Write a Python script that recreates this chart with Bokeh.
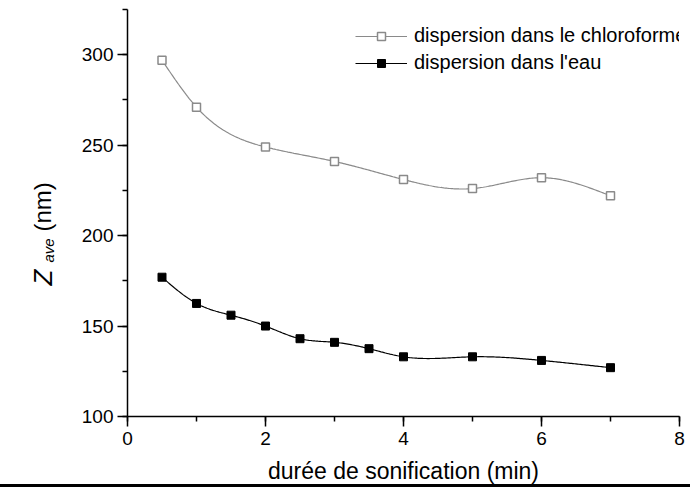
import numpy as np
from bokeh.plotting import figure
from bokeh.layouts import row
from bokeh.models import (Range1d, SingleIntervalTicker, Legend, LegendItem, Label)
from bokeh.embed import file_html
from bokeh.resources import INLINE

# ---- data ----
x_chloro = [0.5, 1, 2, 3, 4, 5, 6, 7]
y_chloro = [297, 271, 249, 241, 231, 226, 232, 222]
x_eau = [0.5, 1, 1.5, 2, 2.5, 3, 3.5, 4, 5, 6, 7]
y_eau = [177, 162.5, 156, 150, 143, 141, 137.5, 133, 133, 131, 127]
label_chloro = "dispersion dans le chloroforme"
label_eau = "dispersion dans l'eau"
x_title = "durée de sonification (min)"
y_title_main = "Z"
y_title_sub = "ave"
y_title_unit = "(nm)"


def spline(xs, ys, num=300):
    xs = np.asarray(xs, float)
    ys = np.asarray(ys, float)
    n = len(xs)
    h = np.diff(xs)
    A = np.zeros((n, n))
    b = np.zeros(n)
    A[0, 0] = 1
    A[-1, -1] = 1
    for i in range(1, n - 1):
        A[i, i - 1] = h[i - 1]
        A[i, i] = 2 * (h[i - 1] + h[i])
        A[i, i + 1] = h[i]
        b[i] = 6 * ((ys[i + 1] - ys[i]) / h[i] - (ys[i] - ys[i - 1]) / h[i - 1])
    M = np.linalg.solve(A, b)
    xx = np.linspace(xs[0], xs[-1], num)
    idx = np.clip(np.searchsorted(xs, xx) - 1, 0, n - 2)
    x0 = xs[idx]
    x1 = xs[idx + 1]
    hh = x1 - x0
    t0 = x1 - xx
    t1 = xx - x0
    yy = (M[idx] * t0 ** 3 / (6 * hh) + M[idx + 1] * t1 ** 3 / (6 * hh)
          + (ys[idx] / hh - M[idx] * hh / 6) * t0
          + (ys[idx + 1] / hh - M[idx + 1] * hh / 6) * t1)
    return xx, yy


FONT = "Liberation Sans"
H = 488
WL = 70
BG = {"background": "linear-gradient(to top, white 0px, white 1px, black 1px, "
                    "black 4px, white 4px, white 100%)"}

# ---- left strip holding the y title ----
q = figure(frame_width=WL, frame_height=H, output_backend="svg", toolbar_location=None,
           x_range=Range1d(0, WL), y_range=Range1d(0, H), x_axis_type=None,
           y_axis_type=None, min_border=0)
q.outline_line_color = None
q.xgrid.visible = False
q.ygrid.visible = False
q.background_fill_alpha = 0
q.border_fill_alpha = 0
q.styles = BG
ang = np.pi / 2
q.add_layout(Label(x=42, y=212, text=y_title_main, angle=ang, text_align="left",
                   text_baseline="alphabetic", text_font=FONT, text_font_size="26px",
                   text_font_style="italic", text_color="black"))
q.add_layout(Label(x=48, y=235, text=y_title_sub, angle=ang, text_align="left",
                   text_baseline="alphabetic", text_font=FONT, text_font_size="15px",
                   text_font_style="italic", text_color="black"))
q.add_layout(Label(x=42, y=266, text=y_title_unit, angle=ang, text_align="left",
                   text_baseline="alphabetic", text_font=FONT, text_font_size="24px",
                   text_color="black"))

# ---- main plot ----
p = figure(frame_width=552, frame_height=407, output_backend="svg",
           toolbar_location=None, x_range=Range1d(0, 8), y_range=Range1d(100, 325),
           min_border_left=127 - WL, min_border_top=9, min_border_bottom=H - 9 - 407,
           min_border_right=11)
p.outline_line_color = None
p.xgrid.visible = False
p.ygrid.visible = False
p.border_fill_alpha = 0
p.styles = BG

gray = "#8a8a8a"
sx, sy = spline(x_chloro, y_chloro)
l1 = p.line(sx, sy, line_color=gray, line_width=1.2)
m1 = p.scatter(x_chloro, y_chloro, marker="square", size=8, line_color=gray,
               fill_color="white", line_width=1.5)
wx, wy = spline(x_eau, y_eau)
l2 = p.line(wx, wy, line_color="black", line_width=1.2)
m2 = p.scatter(x_eau, y_eau, marker="square", size=8, line_color="black",
               fill_color="black")

for ax in (p.xaxis[0], p.yaxis[0]):
    ax.axis_line_width = 1.5
    ax.axis_line_color = "black"
    ax.major_tick_line_color = "black"
    ax.minor_tick_line_color = "black"
    ax.major_tick_line_width = 1.5
    ax.minor_tick_line_width = 1.5
    ax.major_tick_out = 10
    ax.major_tick_in = 0
    ax.minor_tick_out = 5
    ax.minor_tick_in = 0
    ax.major_label_text_font = FONT
    ax.major_label_text_font_size = "19px"
    ax.major_label_text_color = "black"
    ax.major_label_standoff = 4

p.xaxis[0].major_label_standoff = 5
p.xaxis[0].ticker = SingleIntervalTicker(interval=2, num_minor_ticks=2)
p.yaxis[0].ticker = SingleIntervalTicker(interval=50, num_minor_ticks=2)
p.xaxis[0].axis_label = x_title
p.xaxis[0].axis_label_text_font = FONT
p.xaxis[0].axis_label_text_font_size = "23px"
p.xaxis[0].axis_label_text_font_style = "normal"
p.xaxis[0].axis_label_text_color = "black"
p.xaxis[0].axis_label_standoff = 10

legend = Legend(items=[LegendItem(label=label_chloro, renderers=[l1, m1]),
                       LegendItem(label=label_eau, renderers=[l2, m2])],
                location=(228, 342), padding=0, margin=0, spacing=4,
                glyph_width=52, glyph_height=20, label_height=20,
                label_standoff=7, border_line_alpha=0, background_fill_alpha=0,
                label_text_font=FONT, label_text_font_size="20px",
                label_text_color="black")
p.add_layout(legend)

layout = row(q, p)
open("out.html", "w").write(file_html(layout, INLINE))
